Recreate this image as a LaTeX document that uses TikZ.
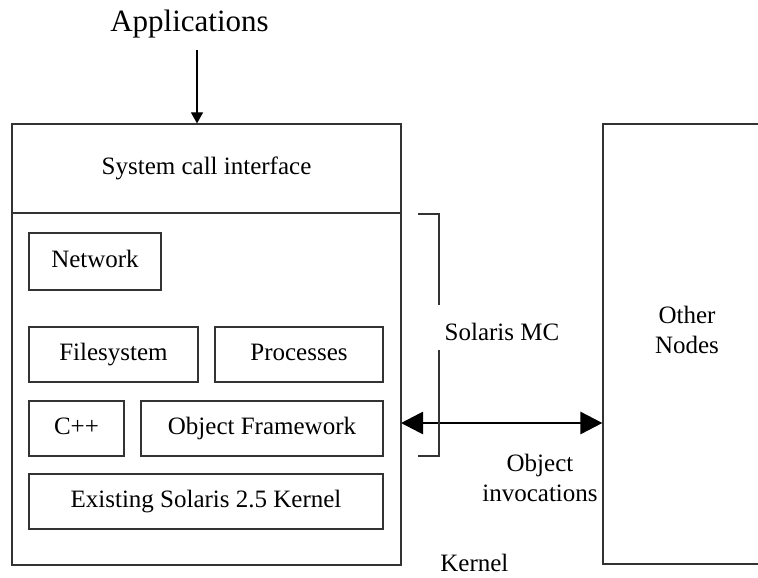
\documentclass[tikz,border=0pt]{standalone}
\usepackage{fontspec}
\setmainfont{Liberation Serif}
\usetikzlibrary{arrows.meta,positioning,calc}
\tikzset{
    block/.style = {draw=black!80, rectangle, line width=.6pt, inner sep=0pt,
        font=\fontsize{12.5}{15}\selectfont, align=center,
        text height=1.6ex, text depth=.4ex},
    lbl/.style = {font=\fontsize{12.5}{15}\selectfont, align=center, inner sep=0pt},
    thin/.style = {draw=black!80, line width=.6pt},
    downarrow/.style = {draw, line width=.6pt, -{Triangle[length=5.5pt,width=6pt]}},
    bigarrow/.style = {draw, line width=1.4pt,
        {Triangle[length=11pt,width=11pt]}-{Triangle[length=11pt,width=11pt]}}
}
\begin{document}
\begin{tikzpicture}[x=.5pt,y=-.5pt]
        \clip (0,0) rectangle (758,577);
        % kernel on this node
        \node[block, minimum width=194.5pt, minimum height=44.5pt] (syscall) at (206.5,168.5) {System call interface};
        \node[block, minimum width=194.5pt, minimum height=176pt] (kern) at (206.5,389) {};
        \node[block, minimum width=66pt, minimum height=28.5pt] (net) at (95,261.5) {Network};
        \node[block, minimum width=84.5pt, minimum height=27.5pt] (fs) at (113.5,354.5) {Filesystem};
        \node[block, minimum width=84pt, minimum height=27.5pt] (proc) at (299,354.5) {Processes};
        \node[block, minimum width=47.5pt, minimum height=27.5pt] (cpp) at (76.5,428.5) {C++};
        \node[block, minimum width=121pt, minimum height=27.5pt] (objfw) at (262,428.5) {Object Framework};
        \node[block, minimum width=177pt, minimum height=27.5pt] (oldkern) at (206,501.5) {Existing Solaris 2.5 Kernel};
        % other nodes
        \node[block, minimum width=88.5pt, minimum height=220pt] (other) at (691.5,344) {};
        \node[lbl] (othertxt) at (687,330) {Other\\Nodes};
        % labels
        \node[lbl, font=\fontsize{15.5}{18}\selectfont, anchor=base] (apps) at (189.5,32) {Applications};
        \node[lbl, anchor=base] (solmc) at (502,340) {Solaris MC};
        \node[lbl, anchor=base west] (kerntxt) at (440,571) {Kernel};
        \node[lbl] (objinv) at (540,478) {Object\\invocations};
        % arrows
        \coordinate (appsarr) at (197,50);
        \draw[downarrow] (appsarr) -- (appsarr |- syscall.north);
        \coordinate (arrL) at (401,423);
        \draw[bigarrow] (arrL) -- (arrL -| other.west);
        % bracket
        \draw[thin] (418,214) -- (439,214) -- (439,305);
        \draw[thin] (439,350) -- (439,456) -- (418,456);
        \end{tikzpicture}
\end{document}
